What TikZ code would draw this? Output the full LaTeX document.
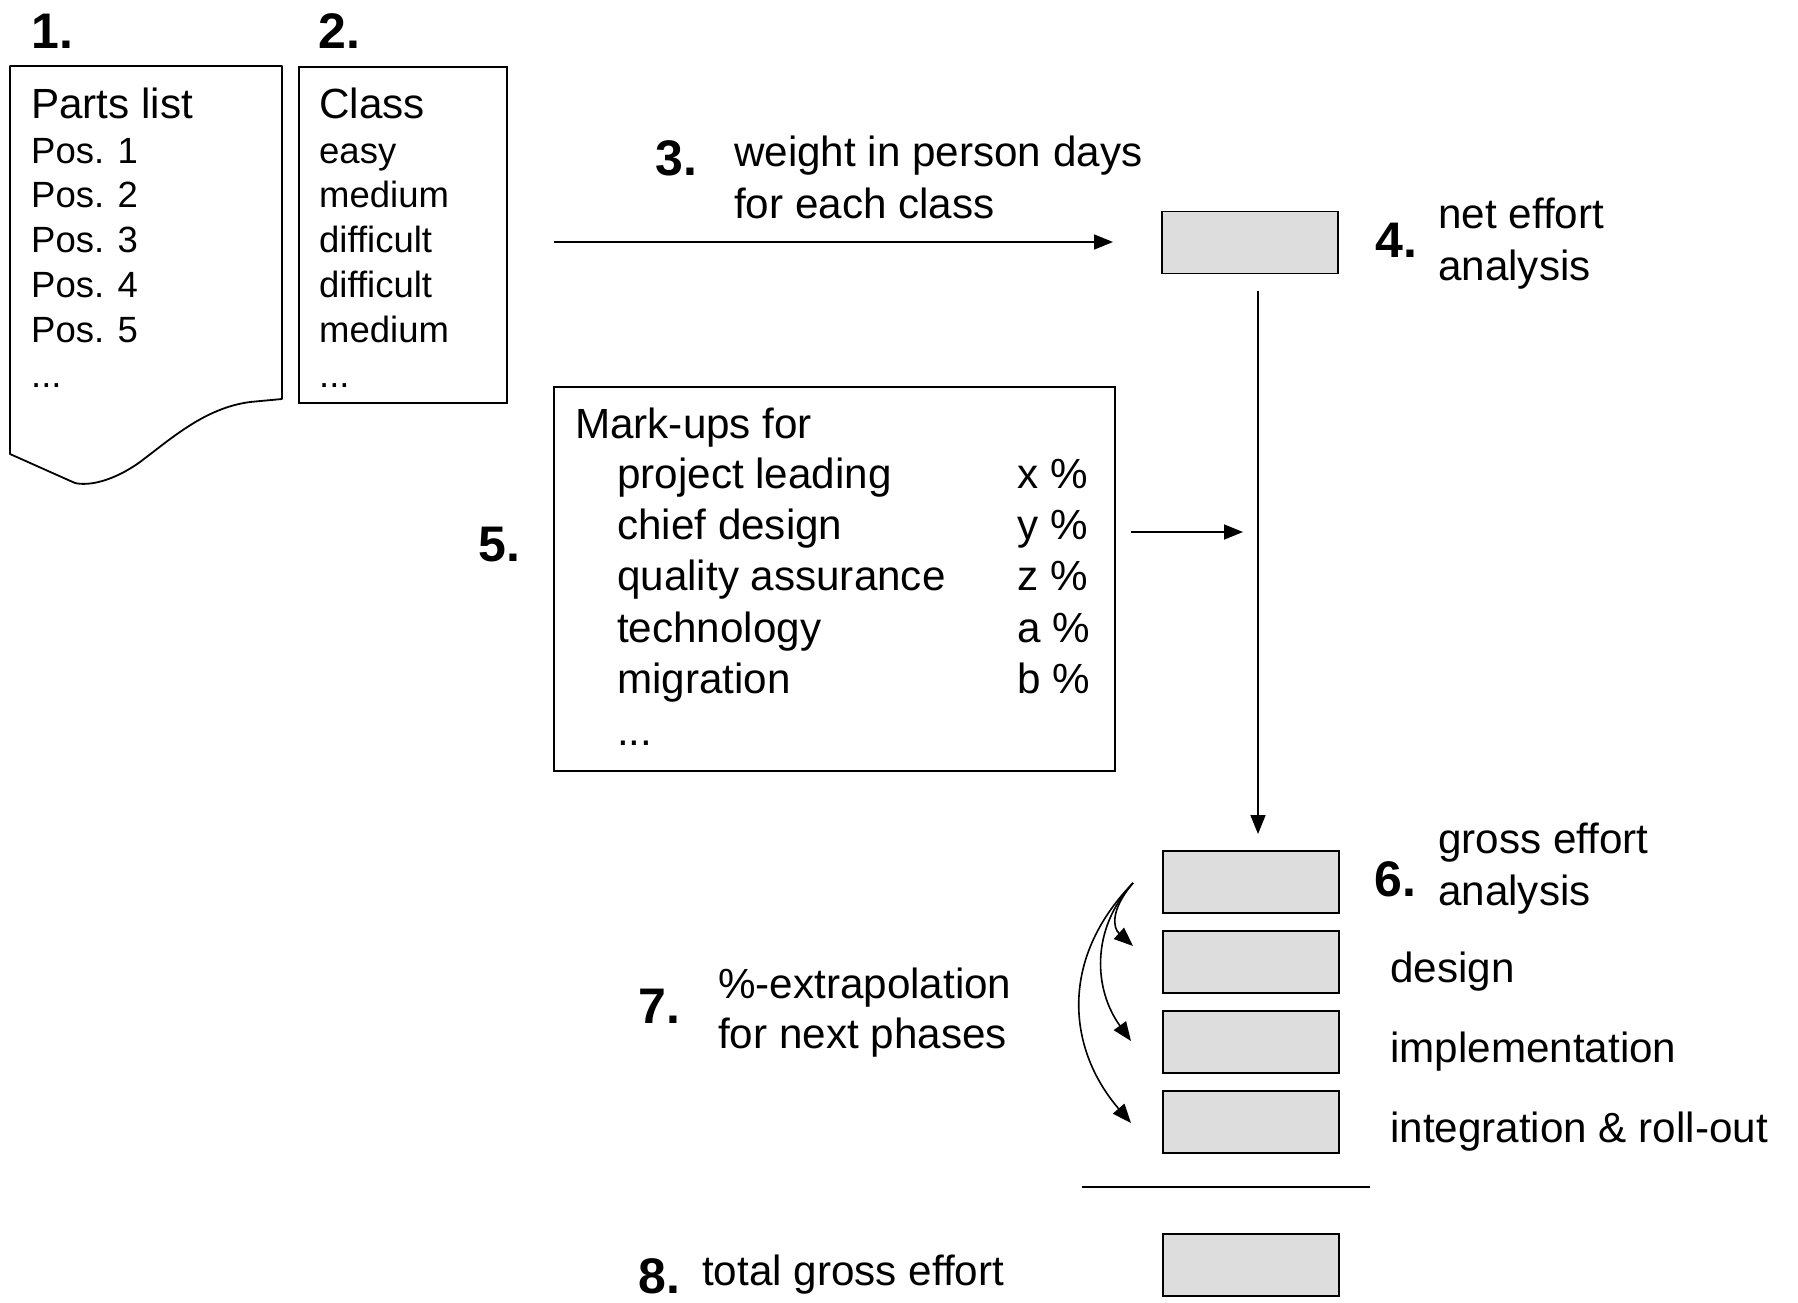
\documentclass[tikz,border=0pt]{standalone}
\usepackage{fontspec}
\setmainfont{Liberation Sans}
\usetikzlibrary{arrows.meta}
\definecolor{boxgray}{HTML}{DDDDDD}
\begin{document}
\begin{tikzpicture}[x=1pt,y=-1pt,
  lbl/.style={anchor=base west, inner sep=0pt, font=\fontsize{42.2}{50}\selectfont},
  itm/.style={anchor=base west, inner sep=0pt, font=\fontsize{36.5}{44}\selectfont},
  num/.style={anchor=base west, inner sep=0pt, font=\bfseries\fontsize{50}{58}\selectfont},
  frame/.style={draw, line width=1.8pt, inner sep=0pt, anchor=north west},
  gbox/.style={frame, fill=boxgray, minimum width=176pt, minimum height=62pt},
  flow/.style={line width=1.6pt, -{Triangle[length=19pt,width=15pt]}},
]
\fill[white] (0,0) rectangle (1798,1302);
\useasboundingbox (0,0) rectangle (1798,1302);

% step numbers
\node[num] (n1) at (31,48) {1.};
\node[num] (n2) at (318,48) {2.};
\node[num] (n3) at (655,175) {3.};
\node[num] (n4) at (1375,257) {4.};
\node[num] (n5) at (478,561) {5.};
\node[num] (n6) at (1374,896) {6.};
\node[num] (n7) at (638,1023) {7.};
\node[num] (n8) at (638,1293) {8.};

% parts list (document shape with wavy lower edge)
\draw[line width=1.8pt, line join=round]
  (10,454) -- (10,66) -- (282,66) -- (282,399) -- (250,402)
  .. controls (205,408) and (172,438) .. (140,462)
  .. controls (112,482) and (88,486) .. (75,483) -- cycle;
\node[lbl] (parts) at (31,118) {Parts list};
\foreach \i in {1,...,5}
  \node[itm] (pos\i) at (31,{163+44.8*(\i-1)}) {Pos. \i};
\node[itm] (pos6) at (31,387) {{.}{.}{.}};

% class list
\node[frame, minimum width=208pt, minimum height=336pt] (classbox) at (298,66) {};
\node[lbl] (class) at (319,118) {Class};
\foreach \t [count=\i] in {easy, medium, difficult, difficult, medium}
  \node[itm] (cls\i) at (319,{163+44.8*(\i-1)}) {\t};
\node[itm] (cls6) at (319,387) {{.}{.}{.}};

% weights
\node[lbl] (w1) at (734,166) {weight in person days};
\node[lbl] (w2) at (734,218) {for each class};
\coordinate (a3s) at (554,242);
\coordinate (a3e) at (1113,242);
\draw[flow] (a3s) -- (a3e);

% net effort
\node[gbox] (net) at (1161,210.5) {};
\node[lbl] (net1) at (1438,228) {net effort};
\node[lbl] (net2) at (1438,280) {analysis};

% mark-ups
\node[frame, minimum width=561pt, minimum height=384pt] (markbox) at (553,386) {};
\node[lbl] (mk0) at (575,438) {Mark-ups for};
\foreach \t/\p [count=\i] in {project leading/x \%, chief design/y \%,
    quality assurance/z \%, technology/a \%, migration/b \%}
{
  \node[lbl] (mk\i) at (617,{488+51.4*(\i-1)}) {\t};
  \node[lbl] (pc\i) at (1017,{488+51.4*(\i-1)}) {\p};
}
\node[lbl] (mk6) at (617,745) {{.}{.}{.}};
\coordinate (a5s) at (1131,532);
\coordinate (a5e) at (1243,532);
\draw[flow] (a5s) -- (a5e);

% net -> gross
\coordinate (vs) at (1258,291);
\coordinate (ve) at (1258,834);
\draw[flow] (vs) -- (ve);

% gross effort and phases
\node[gbox] (gross) at (1162,850) {};
\node[gbox] (design) at (1162,930) {};
\node[gbox] (impl) at (1162,1010) {};
\node[gbox] (integ) at (1162,1090) {};
\node[lbl] (g1) at (1438,853) {gross effort};
\node[lbl] (g2) at (1438,905) {analysis};
\node[lbl] (ph1) at (1390,982) {design};
\node[lbl] (ph2) at (1390,1062) {implementation};
\node[lbl] (ph3) at (1390,1142) {integration \& roll-out};

% extrapolation arrows
\coordinate (src) at (1133,883);
\coordinate (t1) at (1133,946);
\coordinate (t2) at (1131,1041);
\coordinate (t3) at (1131,1123);
\draw[flow] (src) .. controls (1110,910) and (1113,928) .. (t1);
\draw[flow] (src) .. controls (1090,930) and (1094,990) .. (t2);
\draw[flow] (src) .. controls (1058,960) and (1068,1050) .. (t3);
\node[lbl] (ex1) at (718,998) {\%-extrapolation};
\node[lbl] (ex2) at (718,1048) {for next phases};

% sum line and total
\coordinate (sl) at (1082,1187);
\coordinate (sr) at (1370,1187);
\draw[line width=1.8pt] (sl) -- (sr);
\node[gbox] (total) at (1162,1233) {};
\node[lbl] (tot) at (702,1285) {total gross effort};
\end{tikzpicture}
\end{document}
